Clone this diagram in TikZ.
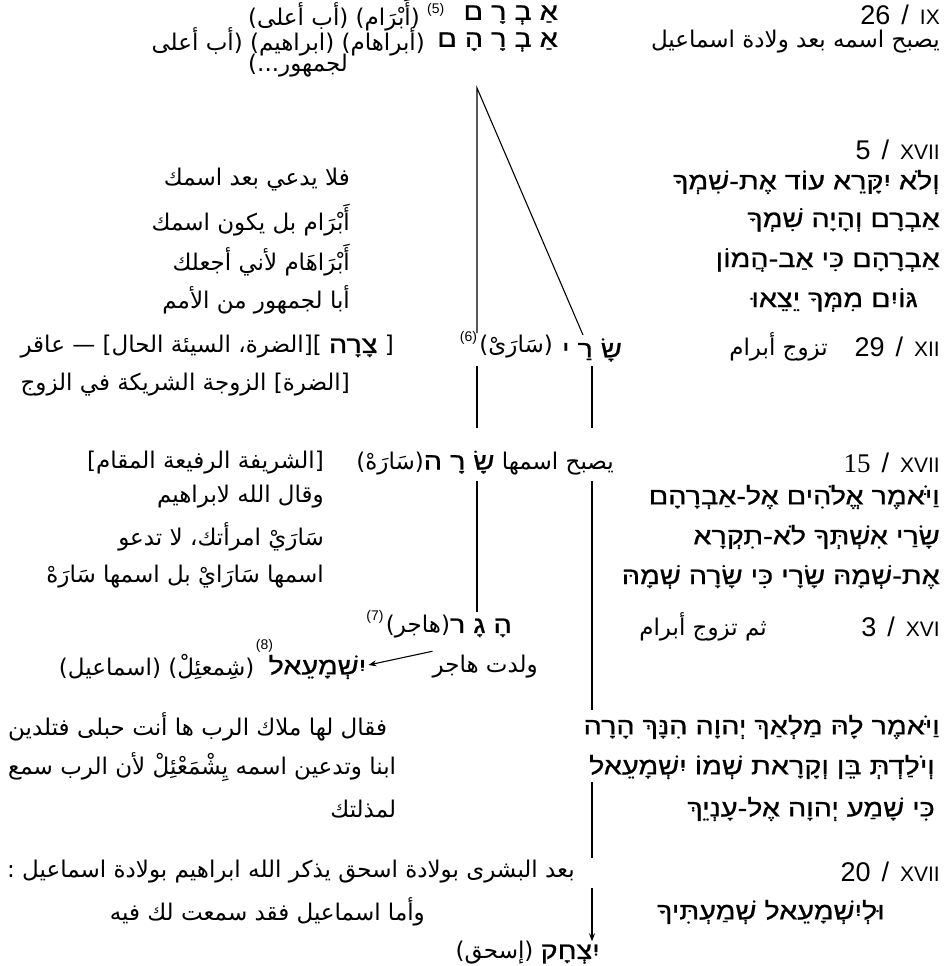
\documentclass[tikz,border=0pt]{standalone}
\usepackage{fontspec}
\usetikzlibrary{arrows.meta,calc}
\TeXXeTstate=1
\newfontfamily\arabicfont[Script=Arabic]{DejaVu Sans}
\newfontfamily\hebfont[Script=Hebrew,FakeStretch=1.2,FakeBold=0.8]{Liberation Sans}
\newfontfamily\latfont{Liberation Sans}
\newfontfamily\latserif{Liberation Serif}
\newcommand\rnum[1]{{\fontsize{21}{24}\selectfont #1}}
\newcommand\sep{\hspace{11pt}/\hspace{11pt}}
\newcommand\heb[1]{{\hebfont\fontsize{24}{28}\selectfont #1}}
\begin{document}
\begin{tikzpicture}[x=1pt,y=-1pt,
 arb/.style={font=\arabicfont\fontsize{23}{27}\selectfont, inner sep=0pt, anchor=east},
 hebt/.style={font=\hebfont\fontsize{24}{28}\selectfont, inner sep=0pt, anchor=east},
 latn/.style={font=\latfont\fontsize{27}{30}\selectfont, inner sep=0pt, anchor=east},
 fnote/.style={font=\latfont\fontsize{14}{16}\selectfont, inner sep=0pt},
 conn/.style={line width=1.1pt},
 arr/.style={line width=1.1pt, -{Stealth[length=8pt,width=6pt]}}]
\useasboundingbox (0,0) rectangle (950,966);
\fill[white] (0,0) rectangle (950,966);
% top rows
\node[arb] (a1) at (420,15) {\beginR (أَبْرَام) (أب أعلى)\endR};
\node[fnote, anchor=west] (n5) at (427,10) {(5)};
\node[hebt] (abram) at (558,15) {\beginR אַ בְ רָ ם\endR};
\node[latn] (c1) at (940,15) {26\sep\rnum{IX}};
\node[arb] (a2) at (425,42) {\beginR (أبراهام) (ابراهيم) (أب أعلى\endR};
\node[hebt] (abraham) at (558,42) {\beginR אַ בְ רָ הָ ם\endR};
\node[arb] (a4) at (940,42) {\beginR يصبح اسمه بعد ولادة اسماعيل\endR};
\node[arb, anchor=west] (a3) at ($(a1.west)+(0,51)$) {\beginR لجمهور...)\endR};
% triangle
\coordinate (apex) at (477,88);
\coordinate (sA) at (477,333);
\coordinate (sB) at (583,335);
\draw[conn] (sA) -- (apex) -- (sB);
% Gen 17:5
\node[latn] (c2) at (940,150) {5\sep\rnum{XVII}};
\node[hebt] (v1) at (940,182) {\beginR וְלֹא יִקָּרֵא עוֹד אֶת-שִׁמְךָ\endR};
\node[hebt] (v2) at (940,220) {\beginR אַבְרָם וְהָיָה שִׁמְךָ\endR};
\node[hebt] (v3) at (940,260) {\beginR אַבְרָהָם כִּי אַב-הֲמוֹן\endR};
\node[hebt] (v4) at (918,300) {\beginR גּוֹיִם מִמְּךָ יֵצֵאוּ\endR};
\node[arb] (b1) at (350,180) {\beginR فلا يدعي بعد اسمك\endR};
\node[arb] (b2) at (350,220) {\beginR أَبْرَام بل يكون اسمك\endR};
\node[arb] (b3) at (350,260) {\beginR أَبْرَاهَام لأني أجعلك\endR};
\node[arb] (b4) at (350,300) {\beginR أبا لجمهور من الأمم\endR};
% Sarai row
\node[hebt, anchor=center] (sarai) at (592,350) {\beginR שָׂ רַ י\endR};
\node[arb] (saray) at (553,347) {\beginR (سَارَىْ)\endR};
\node[fnote, anchor=east] (n6) at ($(saray.west)+(-2,-9)$) {(6)};
\node[arb] (s1) at (394,347) {\beginR [ \heb{צָרָה} ][الضرة، السيئة الحال] — عاقر\endR};
\node[latn] (c3) at (940,347) {29\sep\rnum{XII}};
\node[arb] (s3) at (828,347) {\beginR تزوج أبرام\endR};
\node[arb] (s4) at (350,385) {\beginR [الضرة] الزوجة الشريكة في الزوج\endR};
\coordinate (sA2) at (477,366); \coordinate (sA3) at (477,428);
\coordinate (sB2) at (592,366); \coordinate (sB3) at (592,428);
\draw[conn] (sA2) -- (sA3);
\draw[conn] (sB2) -- (sB3);
% Sarah row
\node[arb] (s5) at (324,463) {\beginR [الشريفة الرفيعة المقام]\endR};
\node[arb] (sarah) at (614,463) {\beginR يصبح اسمها \heb{שָׂ רָ ה}(سَارَهْ)\endR};
\node[latn] (c4) at (940,463) {{\latserif 15}\sep\rnum{XVII}};
\coordinate (lA1) at (477,481); \coordinate (lA2) at (477,612);
\coordinate (lB1) at (592,481); \coordinate (lB2) at (592,710);
\draw[conn] (lA1) -- (lA2);
\draw[conn] (lB1) -- (lB2);
\node[arb] (s7) at (324,497) {\beginR وقال الله لابراهيم\endR};
\node[arb] (s8) at (324,537) {\beginR سَارَيْ امرأتك، لا تدعو\endR};
\node[arb] (s9) at (324,577) {\beginR اسمها سَارَايْ بل اسمها سَارَهْ\endR};
\node[hebt] (v5) at (940,497) {\beginR וַיֹּאמֶר אֱלֹהִים אֶל-אַבְרָהָם\endR};
\node[hebt] (v6) at (940,537) {\beginR שָׂרַי אִשְׁתְּךָ לֹא-תִקְרָא\endR};
\node[hebt] (v7) at (940,577) {\beginR אֶת-שְׁמָהּ שָׂרָי כִּי שָׂרָה שְׁמָהּ\endR};
% Hagar
\node[arb] (hagar) at (512,627) {\beginR \heb{הָ גָ ר}(هاجر)\endR};
\node[fnote, anchor=east] (n7) at ($(hagar.west)+(-2,-10)$) {(7)};
\node[arb] (g2) at (767,627) {\beginR ثم تزوج أبرام\endR};
\node[latn] (c5) at (940,627) {3\sep\rnum{XVI}};
\node[arb] (g3) at (538,667) {\beginR ولدت هاجر\endR};
\node[hebt] (ish) at ($(g3.west)+(-66,0)$) {\beginR יִשְׁמָעֵאל\endR};
\node[fnote, anchor=south] (n8) at ($(ish.north west)+(-4,-2)$) {(8)};
\node[arb] (g5) at ($(ish.west)+(-14,0)$) {\beginR (شِمعئِلْ) (اسماعيل)\endR};
\coordinate (arS) at ($(g3.north west)+(0,-4)$);
\draw[arr] (arS) -- ($(ish.east)+(2,-2)$);
% Gen 16:11
\node[arb, anchor=west] (g6) at (8,727) {\beginR فقال لها ملاك الرب ها أنت حبلى فتلدين\endR};
\node[arb, anchor=west] (g7) at (8,767) {\beginR ابنا وتدعين اسمه يِشْمَعْئِلْ لأن الرب سمع\endR};
\node[arb] (g8) at ($(g7.east)+(0,42)$) {\beginR لمذلتك\endR};
\node[hebt] (v8) at (940,727) {\beginR וַיֹּאמֶר לָהּ מַלְאַךְ יְהוָה הִנָּךְ הָרָה\endR};
\node[hebt] (v9) at (935,767) {\beginR וְיֹלַדְתְּ בֵּן וְקָרָאת שְׁמוֹ יִשְׁמָעֵאל\endR};
\node[hebt] (v10) at (935,809) {\beginR כִּי שָׁמַע יְהוָה אֶל-עָנְיֵךְ\endR};
\coordinate (lB3) at (592,782); \coordinate (lB4) at (592,858);
\draw[conn] (lB3) -- (lB4);
% Gen 17:20
\node[arb, anchor=west] (i1) at (7,872) {\beginR بعد البشرى بولادة اسحق يذكر الله ابراهيم بولادة اسماعيل :\endR};
\node[latn] (c6) at (940,872) {20\sep\rnum{XVII}};
\node[arb] (i2) at (425,912) {\beginR وأما اسماعيل فقد سمعت لك فيه\endR};
\node[hebt] (v11) at (885,912) {\beginR וּלְיִשְׁמָעֵאל שְׁמַעְתִּיךָ\endR};
\node[arb] (isaac) at (600,953) {\beginR \heb{יִצְחָק} (إسحق)\endR};
\coordinate (arT) at (592,888);
\draw[arr] (arT) -- (isaac.north east -| arT);
\end{tikzpicture}
\end{document}
